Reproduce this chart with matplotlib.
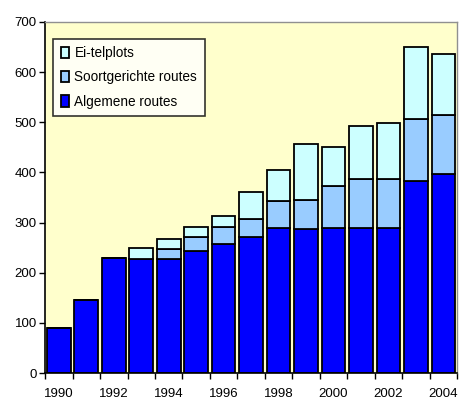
import numpy as np
import matplotlib.pyplot as plt

# data
jaren = list(range(1990, 2005))
algemeen = [90, 145, 230, 228, 227, 243, 257, 272, 290, 287, 290, 290, 290, 382, 396]
soort = [0, 0, 0, 0, 20, 28, 34, 36, 52, 58, 83, 96, 96, 125, 119]
ei = [0, 0, 0, 21, 20, 20, 22, 52, 63, 111, 78, 107, 112, 142, 121]

plt.rcParams['font.family'] = ['Liberation Sans', 'DejaVu Sans']

fig = plt.figure(figsize=(4.65, 4.05), dpi=100)
ax = fig.add_axes([0.097, 0.079, 0.886, 0.867])
ax.set_facecolor('#FFFFCC')

x = np.arange(len(jaren))
w = 0.86
alg = np.array(algemeen)
so = np.array(soort)
e = np.array(ei)

ax.bar(x, alg, w, color='#0000FF', edgecolor='black', linewidth=1.3, label='Algemene routes')
ax.bar(x, so, w, bottom=alg, color='#99CCFF', edgecolor='black', linewidth=1.3,
       label='Soortgerichte routes')
ax.bar(x, e, w, bottom=alg + so, color='#CCFFFF', edgecolor='black', linewidth=1.3,
       label='Ei-telplots')

ax.set_xlim(-0.5, len(jaren) - 0.5)
ax.set_ylim(0, 700)
ax.set_yticks(range(0, 701, 100))
ax.tick_params(axis='y', direction='out', length=4, width=1, labelsize=9.5, pad=2)

# tick marks between categories, labels under the even years
ax.set_xticks(np.arange(len(jaren) + 1) - 0.5)
ax.set_xticklabels([])
ax.tick_params(axis='x', which='major', direction='out', length=4, width=1)
ax.set_xticks(x[::2], minor=True)
ax.set_xticklabels([str(j) for j in jaren[::2]], minor=True, fontsize=9.5)
ax.tick_params(axis='x', which='minor', length=0, pad=11)

for s in ['left', 'bottom']:
    ax.spines[s].set_color('black')
    ax.spines[s].set_linewidth(1.2)
for s in ['top', 'right']:
    ax.spines[s].set_color('#909090')
    ax.spines[s].set_linewidth(1)

h, l = ax.get_legend_handles_labels()
leg = ax.legend(h[::-1], l[::-1], loc='upper left', bbox_to_anchor=(0.02, 0.952),
                fontsize=9.8, frameon=True, fancybox=False, edgecolor='black',
                handlelength=0.6, handleheight=0.9, handletextpad=0.4,
                labelspacing=0.75, borderpad=0.55, borderaxespad=0)
leg.get_frame().set_linewidth(1.2)

plt.savefig('out.png', dpi=100)
